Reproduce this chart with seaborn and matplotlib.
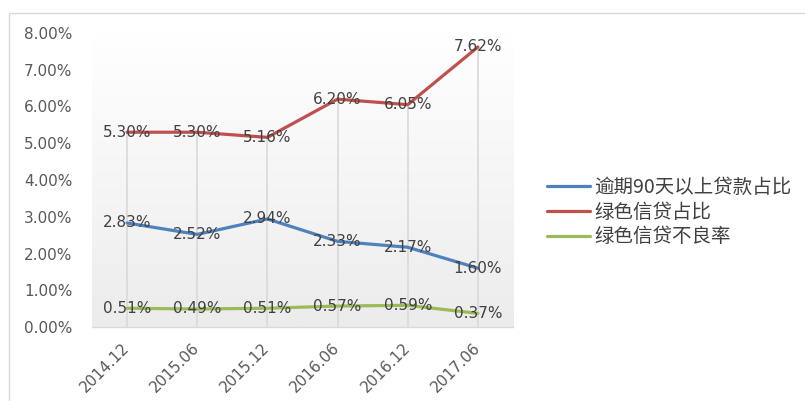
import numpy as np
import pandas as pd
import matplotlib
matplotlib.use("Agg")
import matplotlib.pyplot as plt
import seaborn as sns
from matplotlib.patches import Rectangle

categories = ["2014.12", "2015.06", "2015.12", "2016.06", "2016.12", "2017.06"]
overdue_ratio = [2.83, 2.52, 2.94, 2.33, 2.17, 1.60]
green_share = [5.30, 5.30, 5.16, 6.20, 6.05, 7.62]
green_npl = [0.51, 0.49, 0.51, 0.57, 0.59, 0.37]
series_names = ["逾期90天以上贷款占比", "绿色信贷占比", "绿色信贷不良率"]
yticks = [0, 1, 2, 3, 4, 5, 6, 7, 8]

sns.set_theme(style="white")
plt.rcParams['font.family'] = ['DejaVu Sans', 'Noto Sans CJK SC']

df = pd.DataFrame({
    "period": categories * 3,
    "x": list(range(len(categories))) * 3,
    "value": overdue_ratio + green_share + green_npl,
    "series": [series_names[0]] * 6 + [series_names[1]] * 6 + [series_names[2]] * 6,
})
palette = {series_names[0]: "#4f81bd", series_names[1]: "#c0504d", series_names[2]: "#9bbb59"}

fig = plt.figure(figsize=(8.05, 4.01), dpi=100)
fig.patches.append(Rectangle((9/805, -0.1), 2.0, 1 - 13/401 + 0.1, transform=fig.transFigure,
                             fill=False, edgecolor="#d9d9d9", linewidth=1.0))
ax = fig.add_axes([92/805, 1 - 327/401, (513 - 92)/805, (327 - 33)/401])

# gradient background
grad = np.linspace(1.0, 0.0, 256).reshape(-1, 1)
ax.imshow(grad, extent=[-0.5, 5.5, 0, 8.0], aspect="auto",
          cmap=matplotlib.colors.LinearSegmentedColormap.from_list("g", ["#ececec", "#ffffff"]),
          zorder=0, origin="upper")

# drop lines from axis to the highest series value
tops = [max(a, b, c) for a, b, c in zip(overdue_ratio, green_share, green_npl)]
ax.vlines(range(len(categories)), 0, tops, color="#d9d9d9", linewidth=1.2, zorder=1)

sns.lineplot(data=df, x="x", y="value", hue="series", palette=palette, linewidth=2.3,
             ax=ax, legend=True, zorder=3)

for vals in (overdue_ratio, green_share, green_npl):
    for i, v in enumerate(vals):
        ax.text(i, v, f"{v:.2f}%", ha="center", va="center", fontsize=11, color="#404040", zorder=4)

ax.set_xlim(-0.5, 5.5)
ax.set_ylim(0, 8.0)
ax.set_yticks(yticks)
ax.set_yticklabels([f"{t:.2f}%" for t in yticks], fontsize=11, color="#595959")
ax.set_xticks(range(len(categories)))
ax.set_xticklabels(categories, rotation=45, ha="right", va="center", rotation_mode="anchor",
                   fontsize=11, color="#595959")
ax.tick_params(axis="y", length=0, pad=14)
ax.tick_params(axis="x", length=0, pad=13)
ax.set_xlabel("")
ax.set_ylabel("")
for s in ["top", "right", "left"]:
    ax.spines[s].set_visible(False)
ax.spines["bottom"].set_color("#d9d9d9")
ax.spines["bottom"].set_linewidth(1.0)

handles, labels = ax.get_legend_handles_labels()
leg = ax.legend(handles, labels, loc="center left", bbox_to_anchor=(533/805, 1 - 212/401),
                bbox_transform=fig.transFigure, frameon=False, handlelength=2.25,
                handletextpad=0.18, labelspacing=0.2, borderpad=0.2,
                prop={"family": ["Noto Sans CJK SC", "DejaVu Sans"], "size": 14})
for t in leg.get_texts():
    t.set_color("#404040")

fig.savefig("out.png", dpi=100)
